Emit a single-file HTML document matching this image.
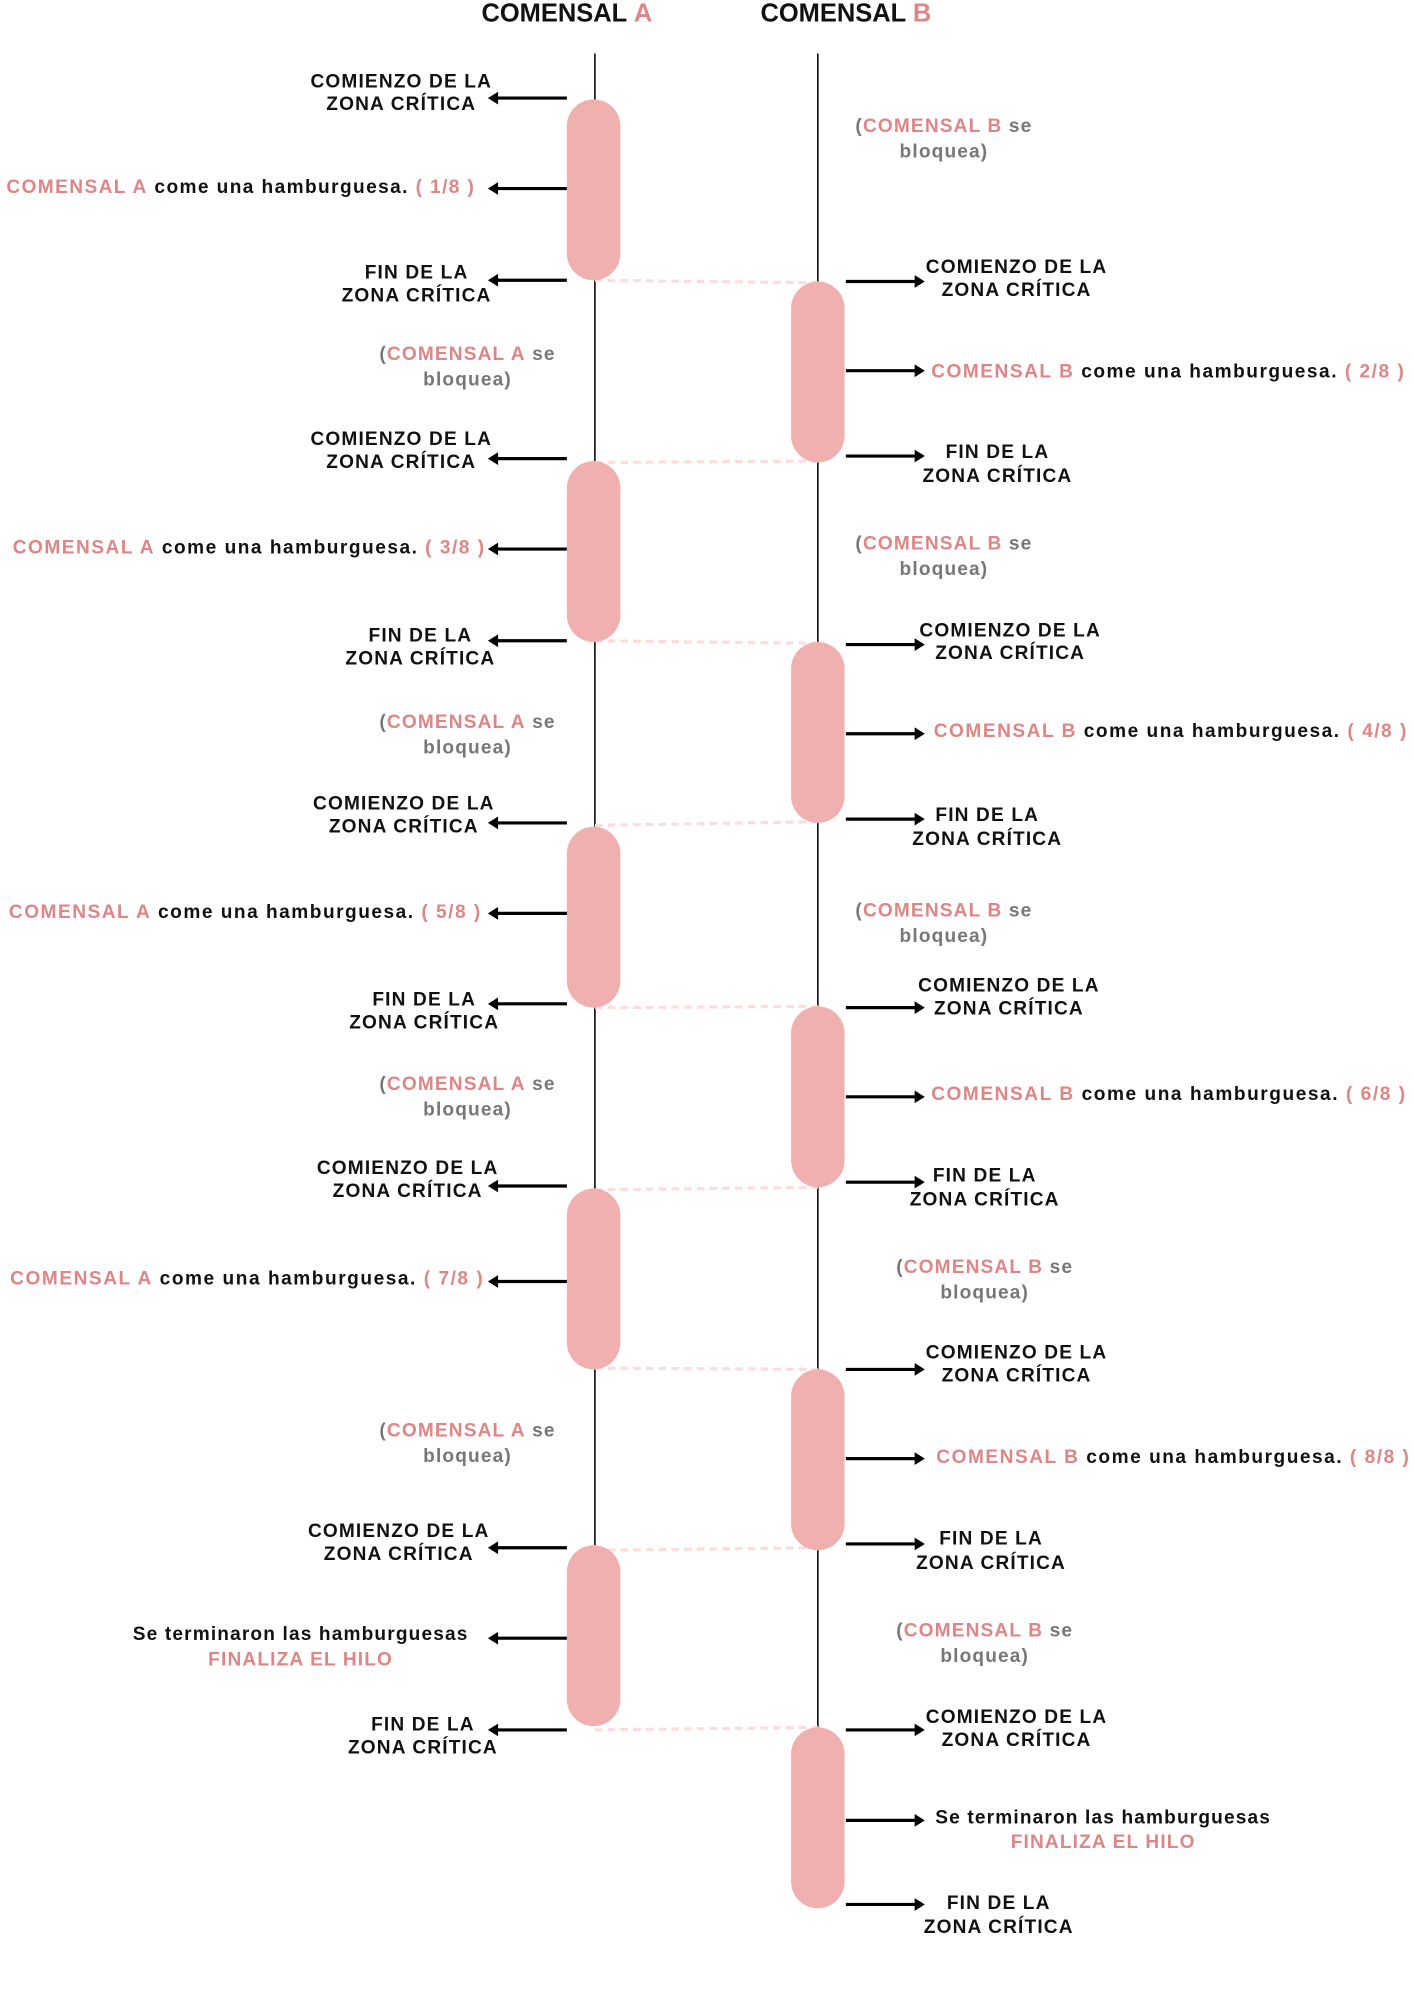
<!DOCTYPE html>
<html><head><meta charset="utf-8"><style>
html,body{margin:0;padding:0;background:#fff;}
svg{display:block;}
text{font-family:"Liberation Sans",sans-serif;font-weight:bold;}
.t{font-size:15px;fill:#111;}
.c text{letter-spacing:0.9px;}
.p{fill:#e08585;}
.g{fill:#777;}
.h{font-size:20px;fill:#111;}
</style></head><body>
<svg width="1414" height="2000" viewBox="0 0 1110 1570" preserveAspectRatio="none" xmlns="http://www.w3.org/2000/svg">
<text class="h" x="445" y="17" text-anchor="middle">COMENSAL <tspan class="p">A</tspan></text>
<text class="h" x="664" y="17" text-anchor="middle">COMENSAL <tspan class="p">B</tspan></text>
<line x1="467" y1="42" x2="467" y2="1213" stroke="#111" stroke-width="1.3"/>
<line x1="642" y1="42" x2="642" y2="1356" stroke="#111" stroke-width="1.3"/>
<g stroke="#fcdcdc" stroke-width="2.5" stroke-dasharray="6,4">
<line x1="467" y1="220" x2="642" y2="222"/><line x1="467" y1="363" x2="642" y2="362"/>
<line x1="467" y1="503" x2="642" y2="505"/><line x1="467" y1="648" x2="642" y2="645"/>
<line x1="467" y1="791" x2="642" y2="790"/><line x1="467" y1="934" x2="642" y2="932"/>
<line x1="467" y1="1074" x2="642" y2="1075"/><line x1="467" y1="1217" x2="642" y2="1215"/>
<line x1="467" y1="1358" x2="642" y2="1356"/>
</g>
<g fill="#f0b0b0">
<rect x="445" y="78" width="42" height="142" rx="21"/><rect x="445" y="362" width="42" height="142" rx="21"/>
<rect x="445" y="649" width="42" height="142" rx="21"/><rect x="445" y="933" width="42" height="142" rx="21"/>
<rect x="445" y="1213" width="42" height="142" rx="21"/>
<rect x="621" y="221" width="42" height="142" rx="21"/><rect x="621" y="504" width="42" height="142" rx="21"/>
<rect x="621" y="790" width="42" height="142" rx="21"/><rect x="621" y="1075" width="42" height="142" rx="21"/>
<rect x="621" y="1356" width="42" height="142" rx="21"/>
</g>
<g stroke="#000" stroke-width="2.5">
<line x1="445" y1="77" x2="389" y2="77"/><line x1="445" y1="148" x2="389" y2="148"/><line x1="445" y1="220" x2="389" y2="220"/>
<line x1="445" y1="360" x2="389" y2="360"/><line x1="445" y1="431" x2="389" y2="431"/><line x1="445" y1="503" x2="389" y2="503"/>
<line x1="445" y1="646" x2="389" y2="646"/><line x1="445" y1="717" x2="389" y2="717"/><line x1="445" y1="788" x2="389" y2="788"/>
<line x1="445" y1="931" x2="389" y2="931"/><line x1="445" y1="1006" x2="389" y2="1006"/>
<line x1="445" y1="1215" x2="389" y2="1215"/><line x1="445" y1="1286" x2="389" y2="1286"/><line x1="445" y1="1358" x2="389" y2="1358"/>
<line x1="664" y1="221" x2="720" y2="221"/><line x1="664" y1="291" x2="720" y2="291"/><line x1="664" y1="358" x2="720" y2="358"/>
<line x1="664" y1="506" x2="720" y2="506"/><line x1="664" y1="576" x2="720" y2="576"/><line x1="664" y1="643" x2="720" y2="643"/>
<line x1="664" y1="791" x2="720" y2="791"/><line x1="664" y1="861" x2="720" y2="861"/><line x1="664" y1="928" x2="720" y2="928"/>
<line x1="664" y1="1075" x2="720" y2="1075"/><line x1="664" y1="1145" x2="720" y2="1145"/><line x1="664" y1="1212" x2="720" y2="1212"/>
<line x1="664" y1="1358" x2="720" y2="1358"/><line x1="664" y1="1429" x2="720" y2="1429"/><line x1="664" y1="1495" x2="720" y2="1495"/>
</g>
<g fill="#000">
<polygon points="383,77 391,72 391,82"/><polygon points="383,148 391,143 391,153"/><polygon points="383,220 391,215 391,225"/>
<polygon points="383,360 391,355 391,365"/><polygon points="383,431 391,426 391,436"/><polygon points="383,503 391,498 391,508"/>
<polygon points="383,646 391,641 391,651"/><polygon points="383,717 391,712 391,722"/><polygon points="383,788 391,783 391,793"/>
<polygon points="383,931 391,926 391,936"/><polygon points="383,1006 391,1001 391,1011"/>
<polygon points="383,1215 391,1210 391,1220"/><polygon points="383,1286 391,1281 391,1291"/><polygon points="383,1358 391,1353 391,1363"/>
<polygon points="726,221 718,216 718,226"/><polygon points="726,291 718,286 718,296"/><polygon points="726,358 718,353 718,363"/>
<polygon points="726,506 718,501 718,511"/><polygon points="726,576 718,571 718,581"/><polygon points="726,643 718,638 718,648"/>
<polygon points="726,791 718,786 718,796"/><polygon points="726,861 718,856 718,866"/><polygon points="726,928 718,923 718,933"/>
<polygon points="726,1075 718,1070 718,1080"/><polygon points="726,1145 718,1140 718,1150"/><polygon points="726,1212 718,1207 718,1217"/>
<polygon points="726,1358 718,1353 718,1363"/><polygon points="726,1429 718,1424 718,1434"/><polygon points="726,1495 718,1490 718,1500"/>
</g>
<g class="t c" text-anchor="middle">
<text x="315" y="68.5">COMIENZO DE LA</text><text x="315" y="86.5">ZONA CRÍTICA</text>
<text x="315" y="349.5">COMIENZO DE LA</text><text x="315" y="367.5">ZONA CRÍTICA</text>
<text x="317" y="635.5">COMIENZO DE LA</text><text x="317" y="653.5">ZONA CRÍTICA</text>
<text x="320" y="921.5">COMIENZO DE LA</text><text x="320" y="939.5">ZONA CRÍTICA</text>
<text x="313" y="1206.5">COMIENZO DE LA</text><text x="313" y="1224.5">ZONA CRÍTICA</text>
<text x="327" y="218.5">FIN DE LA</text><text x="327" y="236.5">ZONA CRÍTICA</text>
<text x="330" y="503.5">FIN DE LA</text><text x="330" y="521.5">ZONA CRÍTICA</text>
<text x="333" y="789.5">FIN DE LA</text><text x="333" y="807.5">ZONA CRÍTICA</text>
<text x="332" y="1358.5">FIN DE LA</text><text x="332" y="1376.5">ZONA CRÍTICA</text>
<text x="798" y="214.5">COMIENZO DE LA</text><text x="798" y="232.5">ZONA CRÍTICA</text>
<text x="793" y="499.5">COMIENZO DE LA</text><text x="793" y="517.5">ZONA CRÍTICA</text>
<text x="792" y="778.5">COMIENZO DE LA</text><text x="792" y="796.5">ZONA CRÍTICA</text>
<text x="798" y="1066.5">COMIENZO DE LA</text><text x="798" y="1084.5">ZONA CRÍTICA</text>
<text x="798" y="1352.5">COMIENZO DE LA</text><text x="798" y="1370.5">ZONA CRÍTICA</text>
<text x="783" y="359.5">FIN DE LA</text><text x="783" y="378.5">ZONA CRÍTICA</text>
<text x="775" y="644.5">FIN DE LA</text><text x="775" y="663.5">ZONA CRÍTICA</text>
<text x="773" y="927.5">FIN DE LA</text><text x="773" y="946.5">ZONA CRÍTICA</text>
<text x="778" y="1212.5">FIN DE LA</text><text x="778" y="1231.5">ZONA CRÍTICA</text>
<text x="784" y="1498.5">FIN DE LA</text><text x="784" y="1517.5">ZONA CRÍTICA</text>
<text class="g" x="367" y="282.5">(<tspan class="p">COMENSAL A</tspan> se</text><text class="g" x="367" y="302.5">bloquea)</text>
<text class="g" x="367" y="571.5">(<tspan class="p">COMENSAL A</tspan> se</text><text class="g" x="367" y="591.5">bloquea)</text>
<text class="g" x="367" y="855.5">(<tspan class="p">COMENSAL A</tspan> se</text><text class="g" x="367" y="875.5">bloquea)</text>
<text class="g" x="367" y="1127.5">(<tspan class="p">COMENSAL A</tspan> se</text><text class="g" x="367" y="1147.5">bloquea)</text>
<text class="g" x="741" y="103.5">(<tspan class="p">COMENSAL B</tspan> se</text><text class="g" x="741" y="123.5">bloquea)</text>
<text class="g" x="741" y="431.5">(<tspan class="p">COMENSAL B</tspan> se</text><text class="g" x="741" y="451.5">bloquea)</text>
<text class="g" x="741" y="719.5">(<tspan class="p">COMENSAL B</tspan> se</text><text class="g" x="741" y="739.5">bloquea)</text>
<text class="g" x="773" y="999.5">(<tspan class="p">COMENSAL B</tspan> se</text><text class="g" x="773" y="1019.5">bloquea)</text>
<text class="g" x="773" y="1284.5">(<tspan class="p">COMENSAL B</tspan> se</text><text class="g" x="773" y="1304.5">bloquea)</text>
<text x="236" y="1287.5">Se terminaron las hamburguesas</text><text class="p" x="236" y="1307.5">FINALIZA EL HILO</text>
<text x="866" y="1431.5">Se terminaron las hamburguesas</text><text class="p" x="866" y="1450.5">FINALIZA EL HILO</text>
</g>
<g class="t">
<text x="5" y="151.5" textLength="367" lengthAdjust="spacing"><tspan class="p">COMENSAL A</tspan> come una hamburguesa. <tspan class="p">( 1/8 )</tspan></text>
<text x="10" y="434.5" textLength="370" lengthAdjust="spacing"><tspan class="p">COMENSAL A</tspan> come una hamburguesa. <tspan class="p">( 3/8 )</tspan></text>
<text x="7" y="720.5" textLength="370" lengthAdjust="spacing"><tspan class="p">COMENSAL A</tspan> come una hamburguesa. <tspan class="p">( 5/8 )</tspan></text>
<text x="8" y="1008.5" textLength="371" lengthAdjust="spacing"><tspan class="p">COMENSAL A</tspan> come una hamburguesa. <tspan class="p">( 7/8 )</tspan></text>
<text x="731" y="296.5" textLength="371" lengthAdjust="spacing"><tspan class="p">COMENSAL B</tspan> come una hamburguesa. <tspan class="p">( 2/8 )</tspan></text>
<text x="733" y="578.5" textLength="371" lengthAdjust="spacing"><tspan class="p">COMENSAL B</tspan> come una hamburguesa. <tspan class="p">( 4/8 )</tspan></text>
<text x="731" y="863.5" textLength="372" lengthAdjust="spacing"><tspan class="p">COMENSAL B</tspan> come una hamburguesa. <tspan class="p">( 6/8 )</tspan></text>
<text x="735" y="1148.5" textLength="371" lengthAdjust="spacing"><tspan class="p">COMENSAL B</tspan> come una hamburguesa. <tspan class="p">( 8/8 )</tspan></text>
</g>
</svg>
</body></html>
